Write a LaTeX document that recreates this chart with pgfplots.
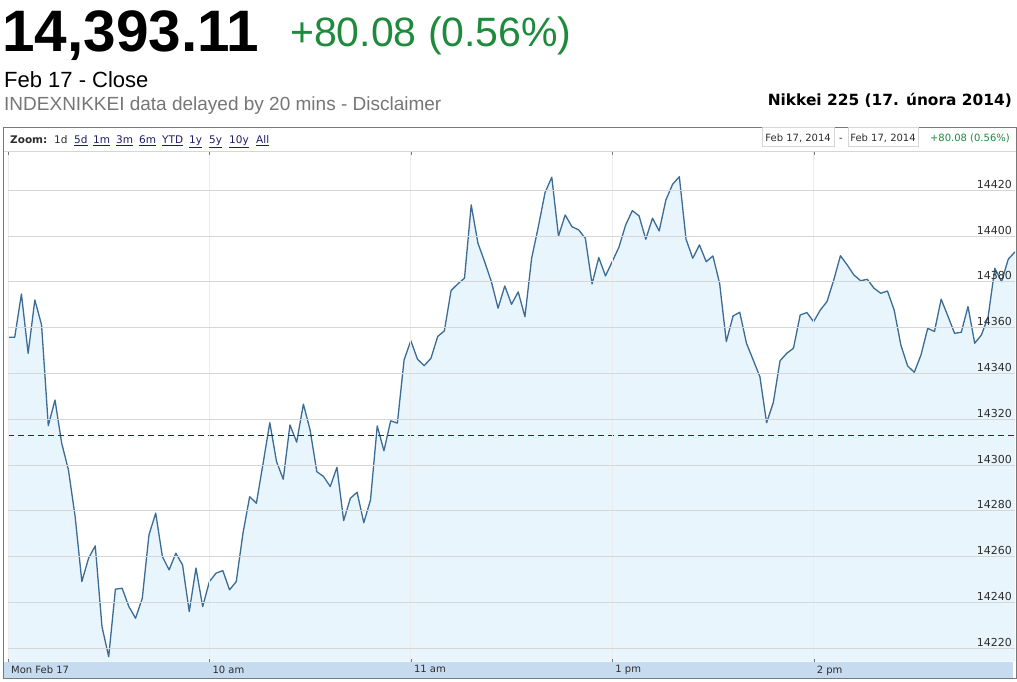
\documentclass[border=0pt]{standalone}
\usepackage{pgfplots}
\pgfplotsset{compat=1.18}
\usepackage{pgfplotstable}
\usetikzlibrary{calc,backgrounds}
\usepackage{fontspec}
\setmainfont{Liberation Sans}
\newfontfamily\dv{DejaVu Sans}
\definecolor{linec}{RGB}{58,108,150}
\definecolor{fillc}{RGB}{232,245,252}
\definecolor{gridc}{RGB}{214,214,214}
\definecolor{vgridc}{RGB}{236,236,236}
\definecolor{upgreen}{RGB}{30,138,60}
\definecolor{subgray}{RGB}{118,118,118}
\definecolor{bandc}{RGB}{198,218,240}
\definecolor{boxc}{RGB}{120,120,120}
\definecolor{linkc}{RGB}{30,30,100}
\definecolor{txt}{RGB}{45,45,45}
\definecolor{prevc}{RGB}{80,30,30}

\pgfplotstableread{
t v
0 14355.8
2 14355.8
4 14374.7
6 14348.8
8 14372.1
10 14361.2
12 14317.2
14 14328.4
16 14309.5
18 14297.9
20 14277.5
22 14249.1
24 14259.3
26 14264.7
28 14229.4
30 14216.3
32 14245.8
34 14246.2
36 14238.2
38 14233.1
40 14241.8
42 14269.5
44 14279.0
46 14260.0
48 14254.2
50 14261.5
52 14256.4
54 14236.0
56 14255.0
58 14238.2
60 14249.1
62 14252.8
64 14253.9
66 14245.5
68 14249.1
70 14270.2
72 14286.2
74 14283.3
76 14300.8
78 14318.5
80 14301.5
82 14293.8
84 14317.5
86 14310.0
88 14326.6
90 14315.3
92 14297.1
94 14295.0
96 14290.6
98 14299.0
100 14275.7
102 14285.5
104 14288.1
106 14274.8
108 14284.8
110 14317.1
112 14306.2
114 14319.3
116 14318.3
118 14345.9
120 14354.3
122 14346.2
124 14343.4
126 14346.6
128 14356.1
130 14358.6
132 14376.2
134 14379.1
136 14381.6
138 14413.6
140 14396.9
142 14388.8
144 14380.1
146 14368.5
148 14378.2
150 14370.2
152 14375.6
154 14364.8
156 14390.3
158 14404.1
160 14419.0
162 14425.7
164 14400.0
166 14409.2
168 14404.1
170 14402.7
172 14399.0
174 14379.1
176 14390.6
178 14382.6
180 14388.8
182 14395.1
184 14404.8
186 14411.1
188 14408.8
190 14398.6
192 14407.8
194 14402.2
196 14415.8
198 14422.6
200 14425.9
202 14398.6
204 14390.3
206 14396.1
208 14388.8
210 14391.3
212 14379.4
214 14353.9
216 14365.1
218 14366.7
220 14353.2
222 14345.9
224 14338.6
226 14318.5
228 14327.3
230 14345.5
232 14348.8
234 14351.0
236 14365.5
238 14366.6
240 14362.6
242 14367.7
244 14371.4
246 14380.8
248 14391.4
250 14387.4
252 14383.0
254 14380.5
256 14381.1
258 14377.2
260 14375.0
262 14376.0
264 14367.7
266 14352.4
268 14343.3
270 14340.5
272 14348.1
274 14359.7
276 14358.3
278 14372.4
280 14365.1
282 14357.5
284 14358.0
286 14369.2
288 14353.2
290 14356.8
292 14364.8
294 14385.9
296 14380.1
298 14389.9
300 14393.1
}\nikkei

\newcommand{\zl}[1]{\textcolor{linkc}{\underline{#1}}}

\begin{document}
\begin{tikzpicture}[x=1pt,y=1pt]
\begin{axis}[at={(0,0)}, anchor=south west, scale only axis,
  width=1007pt, height=509.5pt,
  xmin=0, xmax=300, ymin=14214.2, ymax=14436.7,
  axis on top,
  axis line style={draw=none},
  xtick={0,60,120,180,240},
  xticklabels={Mon Feb 17,10 am,11 am,1 pm,2 pm},
  xticklabel style={font=\dv\fontsize{10}{11}\selectfont, text=txt, anchor=north west, inner sep=0pt, xshift=3pt, yshift=-4pt},
  tick align=inside, major tick length=3pt,
  xtick style={draw=boxc},
  ytick={14220,14240,...,14420},
  ytick style={draw=none},
  yticklabel pos=right,
  scaled y ticks=false, scaled x ticks=false,
  /pgf/number format/.cd, 1000 sep={}, assume math mode=true, /pgfplots/.cd,
  yticklabel style={font=\dv\fontsize{11}{12}\selectfont, text=txt, anchor=south east, inner sep=0pt, xshift=-3pt, yshift=1.5pt},
  ymajorgrids, xmajorgrids,
  y grid style={gridc, line width=0.8pt},
  x grid style={vgridc, line width=0.8pt},
  clip=true]
\addplot[draw=none, fill=fillc] table[x=t,y=v]{\nikkei} \closedcycle;
\addplot[linec, line width=1.3pt, line join=round] table[x=t,y=v]{\nikkei};
\addplot[prevc, line width=0.9pt, dash pattern=on 6pt off 4pt] coordinates {(0,14313.03) (300,14313.03)};
\coordinate (bl) at (rel axis cs:0,0);
\end{axis}
\pgfresetboundingbox
\begin{scope}[shift={($(bl)-(8,19.5)$)}]
\path[use as bounding box] (0,0) rectangle (1017,681);
\begin{scope}[on background layer]
\fill[white] (0,0) rectangle (1017,681);
\fill[bandc] (4,3) rectangle (1013,19.5);
\end{scope}
% header
\node[anchor=base west, inner sep=0pt, font=\fontsize{58.5}{60}\selectfont\bfseries] at (2,629) {14,393.11};
\node[anchor=base west, inner sep=0pt, font=\fontsize{41}{44}\selectfont, text=upgreen] at (290,634) {+80.08 (0.56\%)};
\node[anchor=base west, inner sep=0pt, font=\fontsize{22}{24}\selectfont] at (4,593) {Feb 17 - Close};
\node[anchor=base west, inner sep=0pt, font=\fontsize{19}{21}\selectfont, text=subgray] at (4,570) {INDEXNIKKEI data delayed by 20 mins - Disclaimer};
\node[anchor=base east, inner sep=0pt, font=\dv\fontsize{15.4}{17}\selectfont\bfseries] at (1012,575) {Nikkei 225 (17. února 2014)};
% chart frame
\draw[boxc, line width=1pt] (4,3) rectangle (1016,553.5);
\draw[gridc, line width=0.8pt] (4.5,530) -- (1015.5,530);
% zoom bar
\begin{scope}[every node/.style={anchor=base west, inner sep=0pt, font=\dv\fontsize{10.5}{12}\selectfont, text=txt}]
\node at (10,537) {\textbf{Zoom:}};
\node at (54,537) {1d};
\node at (74,537) {\zl{5d}};
\node at (93,537) {\zl{1m}};
\node at (116,537) {\zl{3m}};
\node at (139,537) {\zl{6m}};
\node at (162,537) {\zl{YTD}};
\node at (189,537) {\zl{1y}};
\node at (209,537) {\zl{5y}};
\node at (229,537) {\zl{10y}};
\node at (256,537) {\zl{All}};
\end{scope}
\draw[gridc, fill=white] (762,534.3) rectangle (834.3,553.3);
\draw[gridc, fill=white] (847.7,534.3) rectangle (918.3,553.3);
\node[anchor=base, inner sep=0pt, font=\dv\fontsize{10}{11}\selectfont, text=txt] at (798.1,539) {Feb 17, 2014};
\node[anchor=base, inner sep=0pt, font=\dv\fontsize{10}{11}\selectfont, text=txt] at (841,539) {-};
\node[anchor=base, inner sep=0pt, font=\dv\fontsize{10}{11}\selectfont, text=txt] at (883,539) {Feb 17, 2014};
\node[anchor=base east, inner sep=0pt, font=\dv\fontsize{10}{11}\selectfont, text=upgreen] at (1010,539) {+80.08 (0.56\%)};
\end{scope}
\end{tikzpicture}
\end{document}
